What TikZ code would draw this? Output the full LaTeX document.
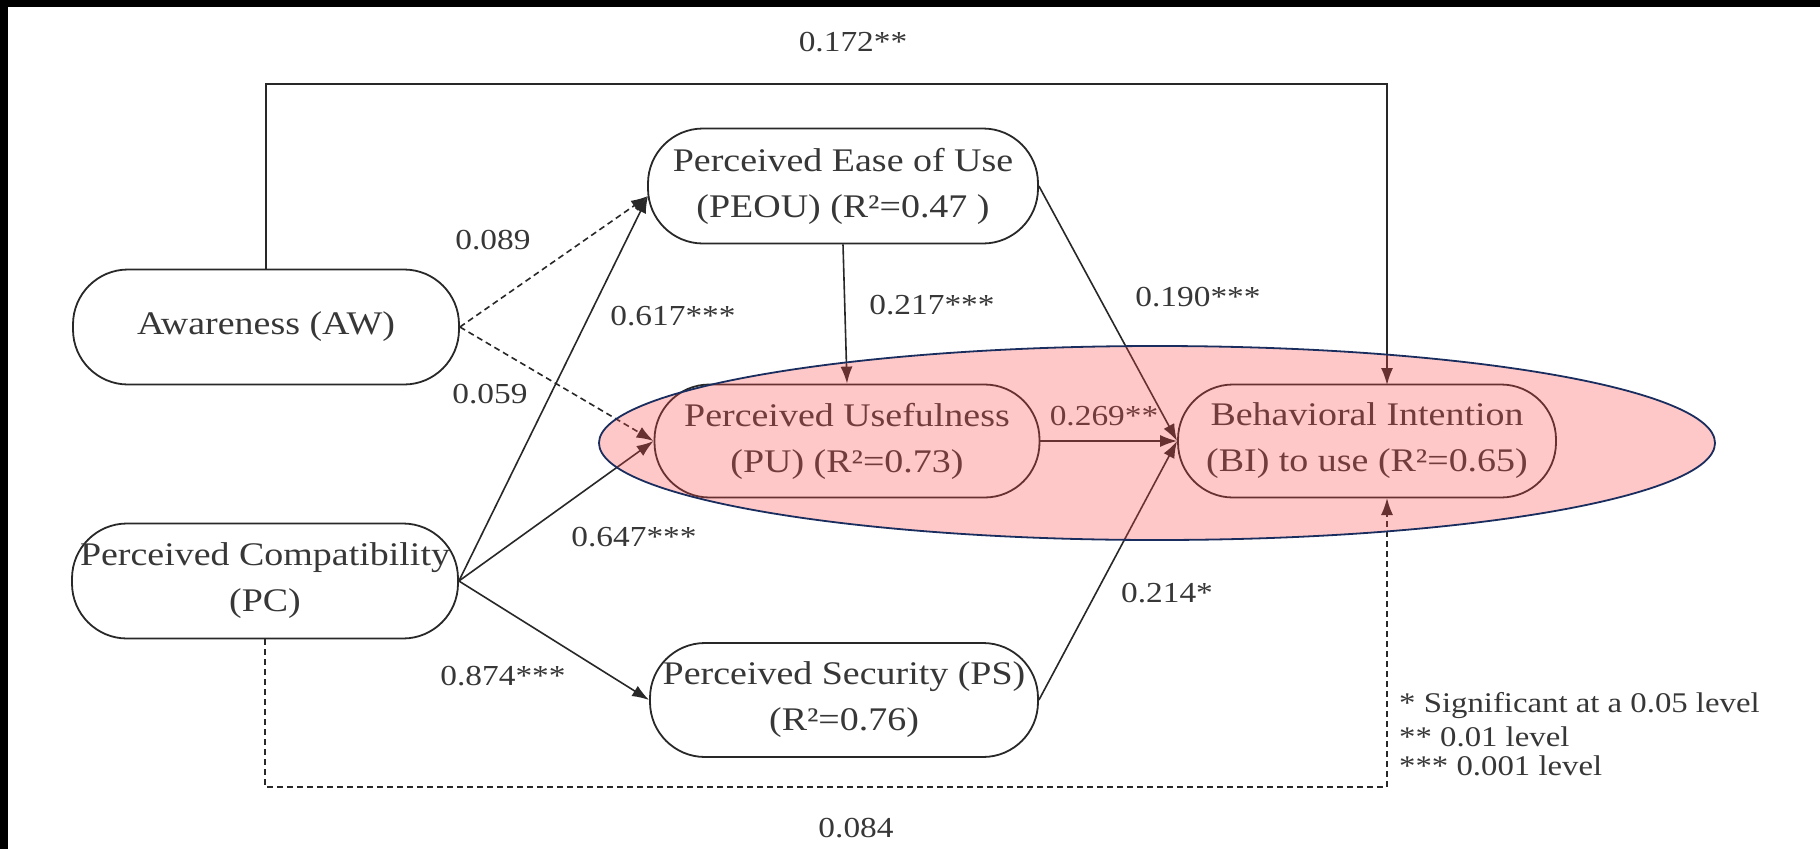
\documentclass[tikz,border=0pt]{standalone}
\usepackage{fontspec}
\setmainfont{Liberation Serif}[FakeStretch=1.15]
\usetikzlibrary{arrows.meta}
\definecolor{ln}{RGB}{40,40,40}
\definecolor{tx}{RGB}{55,55,55}
\definecolor{pinkfill}{RGB}{255,73,73}
\definecolor{navy}{RGB}{25,45,95}
\begin{document}
\begin{tikzpicture}[x=1pt,y=-1pt,
  box/.style={draw=ln, line width=1.8pt, rounded corners=55pt, minimum height=115pt, align=center, text=tx, font=\fontsize{33}{46}\selectfont, inner sep=0pt},
  lbl/.style={text=tx, font=\fontsize{29}{30}\selectfont, inner sep=0pt},
  leg/.style={text=tx, font=\fontsize{28.5}{30}\selectfont, inner sep=0pt, anchor=west},
  arr/.style={draw=ln, line width=1.6pt, -{Latex[length=17pt,width=12pt]}},
  dsh/.style={arr, dash pattern=on 6pt off 4pt},
  hl/.style={draw=navy, line width=1.8pt, fill=pinkfill, fill opacity=0.3, draw opacity=1}
]
\fill[white] (0,0) rectangle (1820,849);
\useasboundingbox (0,0) rectangle (1820,849);
\fill[black] (0,0) rectangle (1820,7);
\fill[black] (0,0) rectangle (8,849);

% nodes
\node[box, minimum width=386pt] (AW) at (266,327) {Awareness (AW)};
\node[box, minimum width=386pt] (PC) at (265,581) {Perceived Compatibility\\(PC)};
\node[box, minimum width=390pt] (PEOU) at (843,186) {Perceived Ease of Use\\(PEOU) (R²=0.47 )};
\node[box, minimum width=385pt, minimum height=113pt] (PU) at (847,441) {Perceived Usefulness\\(PU) (R²=0.73)};
\node[box, minimum width=378pt, minimum height=113pt] (BI) at (1367,441) {Behavioral Intention\\(BI) to use (R²=0.65)};
\node[box, minimum width=388pt, minimum height=114pt] (PS) at (844,700) {Perceived Security (PS)\\(R²=0.76)};

% helper coordinates
\coordinate (tl) at (266,84);
\coordinate (tr) at (1387,84);
\coordinate (bl) at (265,787);
\coordinate (br) at (1387,787);
\coordinate (biTop) at (1387,385);
\coordinate (biBot) at (1387,498);
\coordinate (peouIn) at (648,196);

% connectors
\draw[arr] (AW.north) -- (tl) -- (tr) -- (biTop);
\draw[dsh] (PC.south) -- (bl) -- (br) -- (biBot);
\draw[dsh] (AW.east) -- (peouIn);
\draw[dsh] (AW.east) -- (PU.west);
\draw[arr] (PC.east) -- (peouIn);
\draw[arr] (PC.east) -- (PU.west);
\draw[arr] (PC.east) -- (PS.west);
\draw[arr] (PEOU.south) -- (PU.north);
\draw[arr] (PEOU.east) -- (BI.west);
\draw[arr] (PU.east) -- (BI.west);
\draw[arr] (PS.east) -- (BI.west);

% labels
\node[lbl] (l1) at (853,42) {0.172**};
\node[lbl] (l2) at (493,240) {0.089};
\node[lbl] (l3) at (490,394) {0.059};
\node[lbl] (l4) at (673,316) {0.617***};
\node[lbl] (l5) at (932,305) {0.217***};
\node[lbl] (l6) at (1198,297) {0.190***};
\node[lbl] (l7) at (1104,416) {0.269**};
\node[lbl] (l8) at (634,537) {0.647***};
\node[lbl] (l9) at (1167,593) {0.214*};
\node[lbl] (l10) at (503,676) {0.874***};
\node[lbl] (l11) at (856,828) {0.084};

\node[leg] (g1) at (1399,706) {* Significant at a 0.05 level};
\node[leg] (g2) at (1399,737) {** 0.01 level};
\node[leg] (g3) at (1399,766) {*** 0.001 level};

% highlight ellipse
\path[hl] (1157,443) ellipse [x radius=558, y radius=97];
\end{tikzpicture}
\end{document}
